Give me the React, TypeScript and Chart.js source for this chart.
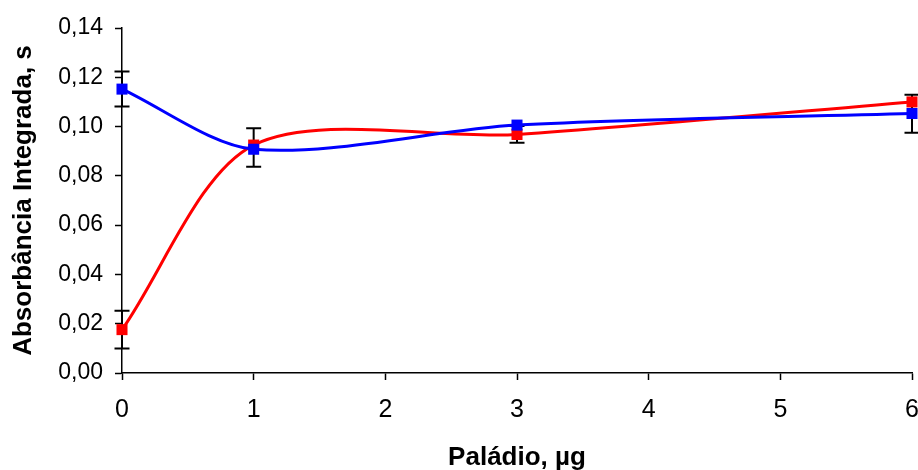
import React, { useEffect, useRef } from "react";
import { Chart, registerables } from "chart.js";

Chart.register(...registerables);

const xValues = [0, 1, 3, 6];
const redValues = [0.0176, 0.0925, 0.0968, 0.11];
const blueValues = [0.1152, 0.0908, 0.1006, 0.1053];
const redErrors: (number | null)[] = [0.0077, null, 0.0034, null];
const blueErrors: (number | null)[] = [0.0071, 0.0078, null, 0.0077];
const blueErrorCenters: (number | null)[] = [0.1152, 0.0915, null, 0.1052];
const yTickLabels = ["0,00", "0,02", "0,04", "0,06", "0,08", "0,10", "0,12", "0,14"];

const FONT = "'Liberation Sans', Arial, Helvetica, sans-serif";

const errorBarPlugin = {
  id: "errorBars",
  beforeDatasetsDraw(chart: any) {
    const { ctx, scales } = chart;
    const xs = scales.x;
    const ys = scales.y;
    const draw = (xv: number, center: number, err: number) => {
      const px = xs.getPixelForValue(xv);
      const top = ys.getPixelForValue(center + err);
      const bot = ys.getPixelForValue(center - err);
      const half = 7.5;
      ctx.save();
      ctx.strokeStyle = "#000";
      ctx.lineWidth = 2;
      ctx.beginPath();
      ctx.moveTo(px, top);
      ctx.lineTo(px, bot);
      ctx.moveTo(px - half, top);
      ctx.lineTo(px + half, top);
      ctx.moveTo(px - half, bot);
      ctx.lineTo(px + half, bot);
      ctx.stroke();
      ctx.restore();
    };
    xValues.forEach((xv, i) => {
      const re = redErrors[i];
      if (re != null) draw(xv, redValues[i], re);
      const be = blueErrors[i];
      const bc = blueErrorCenters[i];
      if (be != null) draw(xv, bc != null ? bc : blueValues[i], be);
    });
  },
};

export default function App() {
  const ref = useRef<HTMLCanvasElement | null>(null);
  useEffect(() => {
    if (!ref.current) return;
    const chart = new Chart(ref.current, {
      type: "line",
      data: {
        datasets: [
          {
            label: "Azul",
            data: xValues.map((x, i) => ({ x, y: blueValues[i] })),
            borderColor: "#0000FF",
            backgroundColor: "#0000FF",
            borderWidth: 3,
            pointStyle: "rect",
            pointRadius: 7.8,
            pointBorderWidth: 0,
            pointBackgroundColor: "#0000FF",
            tension: 0.3,
            clip: false as any,
          },
          {
            label: "Vermelho",
            data: xValues.map((x, i) => ({ x, y: redValues[i] })),
            borderColor: "#FF0000",
            backgroundColor: "#FF0000",
            borderWidth: 3,
            pointStyle: "rect",
            pointRadius: 7.8,
            pointBorderWidth: 0,
            pointBackgroundColor: "#FF0000",
            tension: 0.3,
            clip: false as any,
          },
        ],
      },
      options: {
        responsive: false,
        animation: false,
        events: [],
        layout: { autoPadding: false, padding: { top: 28, right: 6, left: 0, bottom: 0 } },
        plugins: {
          legend: { display: false },
          tooltip: { enabled: false },
        },
        scales: {
          x: {
            type: "linear",
            min: 0,
            max: 6,
            afterFit: (s: any) => {
              s.height = 97;
              s.paddingLeft = 0;
              s.paddingRight = 0;
            },
            ticks: {
              stepSize: 1,
              color: "#000",
              padding: 15,
              font: { family: FONT, size: 25 },
            },
            grid: {
              display: true,
              drawOnChartArea: false,
              drawTicks: true,
              tickLength: 7,
              tickWidth: 1.5,
              tickColor: "#000",
            },
            border: { display: true, color: "#000", width: 1.5 },
            title: {
              display: true,
              text: "Paládio, µg",
              color: "#000",
              font: { family: FONT, size: 26, weight: "bold" },
              padding: { top: 0, bottom: -3 },
            },
          },
          y: {
            type: "linear",
            min: 0,
            max: 0.14,
            afterFit: (s: any) => {
              s.width = 122;
              s.paddingTop = 0;
              s.paddingBottom = 0;
            },
            ticks: {
              stepSize: 0.02,
              color: "#000",
              padding: 12,
              font: { family: FONT, size: 23 },
              callback: (v: any) => {
                const idx = Math.round(Number(v) / 0.02);
                return yTickLabels[idx] ?? "";
              },
            },
            grid: {
              display: true,
              drawOnChartArea: false,
              drawTicks: true,
              tickLength: 7,
              tickWidth: 1.5,
              tickColor: "#000",
            },
            border: { display: true, color: "#000", width: 1.5 },
            title: {
              display: true,
              text: "Absorbância Integrada, s",
              color: "#000",
              font: { family: FONT, size: 26, weight: "bold" },
              padding: { top: 8, bottom: 0 },
            },
          },
        },
      },
      plugins: [errorBarPlugin],
    });
    return () => chart.destroy();
  }, []);
  return (
    <div style={{ position: "absolute", left: 0, top: 0, width: 918, height: 470, background: "#fff" }}>
      <canvas ref={ref} width={918} height={470} />
    </div>
  );
}
